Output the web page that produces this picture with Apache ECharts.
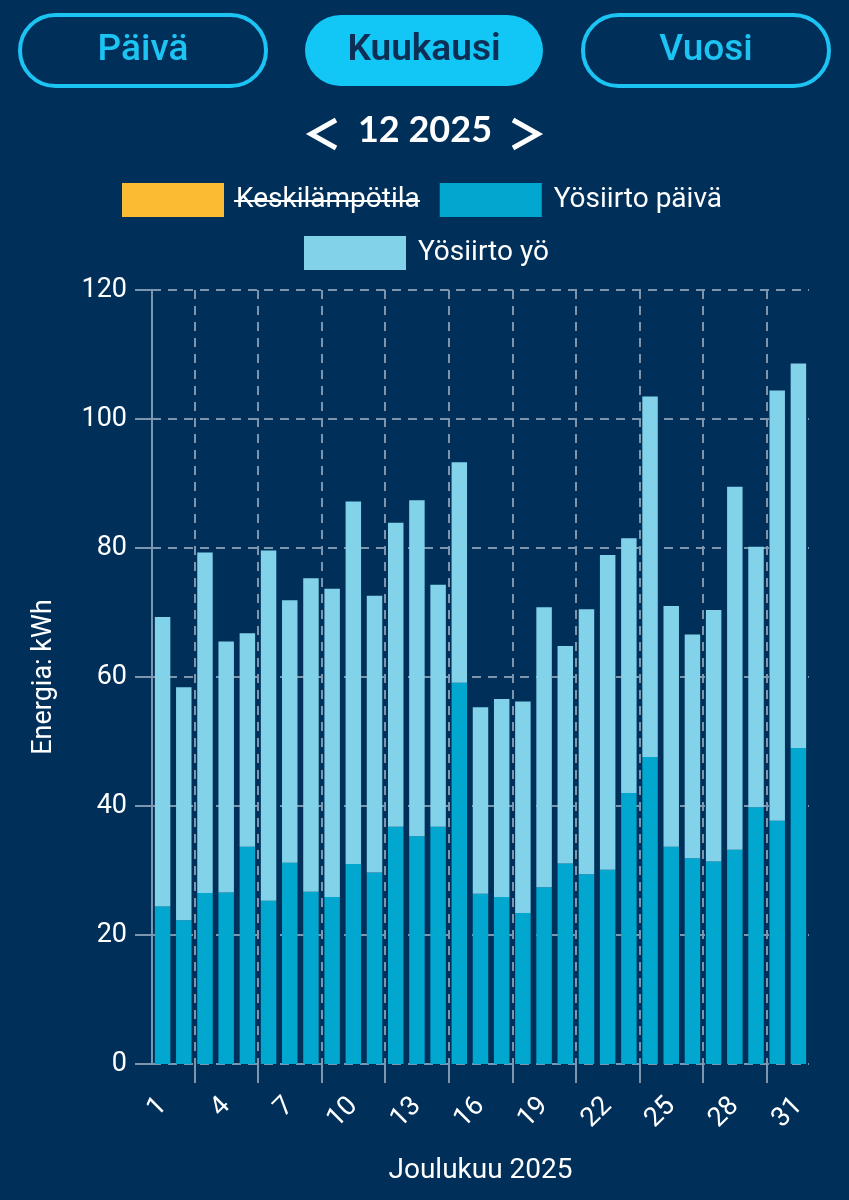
<!DOCTYPE html>
<html>
<head>
<meta charset="utf-8">
<script src="https://cdn.jsdelivr.net/npm/echarts@6/dist/echarts.min.js"></script>
<style>
  html, body { margin: 0; padding: 0; background: #00305a; }
  #main { width: 849px; height: 1200px; }
</style>
</head>
<body>
<div id="main"></div>
<script>
// päivät 1..31
var days = [];
for (var d = 1; d <= 31; d++) days.push(String(d));
// rajat 0..31 ruudukon pystyviivoille
var edges = [];
for (var e = 0; e <= 31; e++) edges.push(String(e));

// Yösiirto päivä (kWh)
var paiva = [24.4, 22.3, 26.5, 26.6, 33.7, 25.3, 31.2, 26.7, 25.9, 31.0,
             29.7, 36.8, 35.3, 36.8, 59.1, 26.4, 25.9, 23.4, 27.4, 31.1,
             29.4, 30.1, 42.0, 47.6, 33.7, 31.9, 31.4, 33.2, 39.8, 37.7, 49.0];
// Yösiirto yö (kWh)
var yo = [44.9, 36.1, 52.8, 38.9, 33.1, 54.3, 40.7, 48.6, 47.8, 56.2,
          42.9, 47.1, 52.1, 37.5, 34.2, 28.9, 30.7, 32.8, 43.4, 33.7,
          41.1, 48.8, 39.5, 55.9, 37.3, 34.7, 39.0, 56.3, 40.4, 66.7, 59.6];
// Keskilämpötila on piilotettu kuvassa
var lampo = [];

var gridColor = '#7d95ad';
var txtColor = '#ffffff';
var cyan = '#1cc4f4';

var myChart = echarts.init(document.getElementById('main'));

function button(x, w, label, active) {
  return {
    type: 'group',
    children: [{
      type: 'rect',
      shape: { x: x, y: 15, width: w, height: 71, r: 36 },
      style: active ? { fill: '#12c6f6' } : { fill: 'transparent', stroke: cyan, lineWidth: 4 }
    }, {
      type: 'text',
      x: x + w / 2, y: 51,
      style: {
        text: label, align: 'center', verticalAlign: 'middle',
        fill: active ? '#0d2f55' : cyan,
        font: (active ? '600' : '500') + ' 37px Roboto'
      }
    }]
  };
}

myChart.setOption({
  backgroundColor: '#00305a',
  animation: false,
  graphic: [
    button(20, 246, 'Päivä', false),
    button(305, 238, 'Kuukausi', true),
    button(583, 246, 'Vuosi', false),
    { type: 'polyline', shape: { points: [[336, 120], [311, 134], [336, 148]] }, style: { stroke: txtColor, lineWidth: 5, fill: null } },
    { type: 'text', x: 425, y: 130, style: { text: '12 2025', align: 'center', verticalAlign: 'middle', fill: txtColor, font: 'bold 36px Lato' } },
    { type: 'polyline', shape: { points: [[513, 120], [538, 134], [513, 148]] }, style: { stroke: txtColor, lineWidth: 5, fill: null } },
    // yliviivaus piilotetulle sarjalle
    { type: 'line', shape: { x1: 234, y1: 201, x2: 420, y2: 201 }, style: { stroke: txtColor, lineWidth: 2 } }
  ],
  legend: [{
    data: ['Keskilämpötila', 'Yösiirto päivä'],
    left: 117, top: 178,
    itemWidth: 102, itemHeight: 34, itemGap: 20,
    icon: 'rect',
    formatter: ' {name}',
    textStyle: { color: txtColor, fontSize: 28, fontFamily: 'Roboto' }
  }, {
    data: ['Yösiirto yö'],
    left: 299, top: 231,
    itemWidth: 102, itemHeight: 34,
    icon: 'rect',
    formatter: ' {name}',
    textStyle: { color: txtColor, fontSize: 28, fontFamily: 'Roboto' }
  }],
  grid: { left: 152, right: 40, top: 290, bottom: 136 },
  xAxis: [{
    type: 'category',
    data: days,
    name: 'Joulukuu 2025',
    nameLocation: 'middle',
    nameGap: 93,
    nameTextStyle: { color: txtColor, fontSize: 28, fontFamily: 'Roboto' },
    axisLine: { show: false },
    axisTick: { show: false },
    splitLine: { show: false },
    axisLabel: {
      interval: 2, rotate: 45, margin: 38,
      color: txtColor, fontSize: 27, fontFamily: 'Roboto'
    }
  }, {
    type: 'category',
    data: edges,
    boundaryGap: false,
    position: 'bottom',
    axisLine: { show: false },
    axisLabel: { show: false },
    axisTick: {
      show: true, length: 19,
      interval: function (i) { return i % 3 === 2; },
      lineStyle: { color: gridColor, width: 2 }
    },
    splitLine: {
      show: true,
      interval: function (i) { return i % 3 === 2; },
      lineStyle: { color: gridColor, type: [9, 7], width: 2 }
    }
  }],
  yAxis: {
    type: 'value',
    min: 0, max: 120, interval: 20,
    name: 'Energia: kWh',
    nameLocation: 'middle',
    nameGap: 94,
    nameTextStyle: { color: txtColor, fontSize: 27, fontFamily: 'Roboto' },
    axisLine: { show: true, lineStyle: { color: gridColor, width: 2 } },
    axisTick: { show: true, length: 17, lineStyle: { color: gridColor, width: 2 } },
    axisLabel: { color: txtColor, fontSize: 27, fontFamily: 'Roboto', margin: 25 },
    splitLine: { lineStyle: { color: gridColor, type: [9, 7], width: 2 } }
  },
  series: [{
    name: 'Keskilämpötila',
    type: 'line',
    data: lampo,
    itemStyle: { color: '#fbbc33' },
    lineStyle: { color: '#fbbc33' }
  }, {
    name: 'Yösiirto päivä',
    type: 'bar',
    stack: 'energia',
    data: paiva,
    barWidth: '73%',
    itemStyle: { color: '#02a7cf' }
  }, {
    name: 'Yösiirto yö',
    type: 'bar',
    stack: 'energia',
    data: yo,
    barWidth: '73%',
    itemStyle: { color: '#82d3ea' }
  }]
});
</script>
</body>
</html>
